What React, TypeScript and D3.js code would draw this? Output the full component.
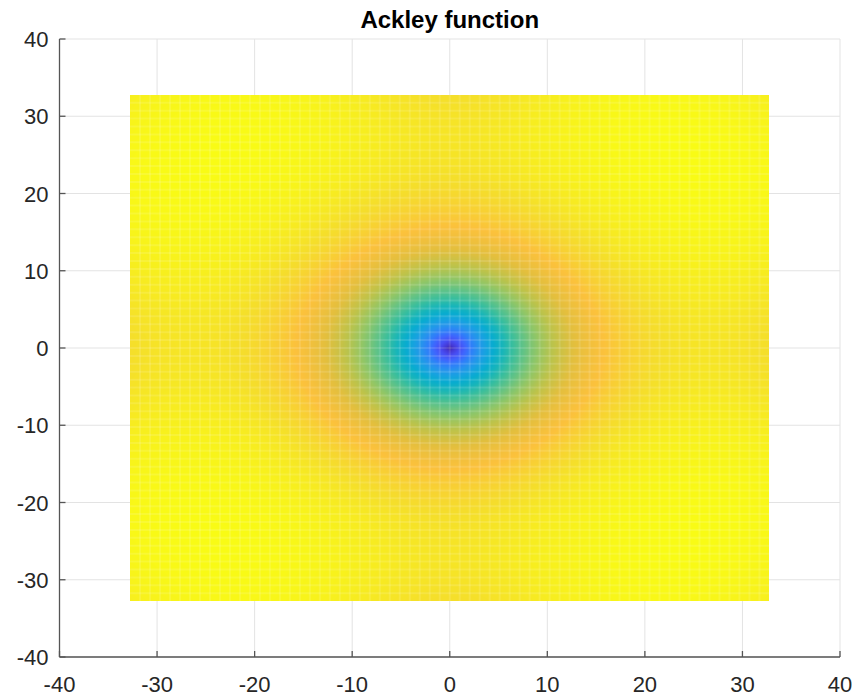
import React, { useEffect, useState } from "react";
import * as d3 from "d3";

// Axis limits and tick values
const xLimits = [-40, 40];
const yLimits = [-40, 40];
const tickValues = [-40, -30, -20, -10, 0, 10, 20, 30, 40];

// Mesh of the surface: 65 x 65 points over the standard Ackley box
const surfaceDomain = [-32.768, 32.768];
const meshPoints = 65;
// Ackley parameters: a, b, c
const ackleyParams = [20, 0.2, 2 * Math.PI];

// Parula colormap anchors (evenly spaced from low to high)
const parula: number[][] = [
  [0.2422, 0.1504, 0.6603], [0.2691, 0.2178, 0.8305], [0.278, 0.3, 0.95], [0.247, 0.396, 0.993],
  [0.184, 0.495, 0.978], [0.15, 0.575, 0.93], [0.09, 0.635, 0.88], [0.03, 0.675, 0.81],
  [0.09, 0.71, 0.73], [0.22, 0.745, 0.62], [0.39, 0.765, 0.52], [0.57, 0.775, 0.4],
  [0.74, 0.765, 0.29], [0.89, 0.75, 0.24], [0.985, 0.755, 0.235], [0.96, 0.87, 0.17],
  [0.9769, 0.9839, 0.0805],
];

const WIDTH = 860;
const HEIGHT = 699;
const margin = { left: 59.5, right: 20, top: 39, bottom: 42 };

function ackley(x: number, y: number): number {
  const [a, b, c] = ackleyParams;
  const s1 = 0.5 * (x * x + y * y);
  const s2 = 0.5 * (Math.cos(c * x) + Math.cos(c * y));
  return -a * Math.exp(-b * Math.sqrt(s1)) - Math.exp(s2) + a + Math.E;
}

const xScale = d3.scaleLinear().domain(xLimits).range([margin.left, WIDTH - margin.right]);
const yScale = d3.scaleLinear().domain(yLimits).range([HEIGHT - margin.bottom, margin.top]);

// mesh coordinates and values
const meshCoords = d3.range(meshPoints).map(
  (i) => surfaceDomain[0] + (i * (surfaceDomain[1] - surfaceDomain[0])) / (meshPoints - 1)
);
const zValues = meshCoords.map((yv) => meshCoords.map((xv) => ackley(xv, yv)));
const zExtent = d3.extent(zValues.flat()) as [number, number];
const meshIndex = d3.scaleLinear().domain(surfaceDomain).range([0, meshPoints - 1]).clamp(true);

const fontFamily = "'Liberation Sans', Arial, Helvetica, sans-serif";

function useSurfaceImage() {
  const [img, setImg] = useState<{ href: string; x: number; y: number; w: number; h: number } | null>(null);
  useEffect(() => {
    const x0 = Math.round(xScale(surfaceDomain[0]));
    const x1 = Math.round(xScale(surfaceDomain[1]));
    const y0 = Math.round(yScale(surfaceDomain[1]));
    const y1 = Math.round(yScale(surfaceDomain[0]));
    const w = x1 - x0;
    const h = y1 - y0;

    const color = d3
      .scaleLinear<string>()
      .domain(parula.map((_, k) => zExtent[0] + (k / (parula.length - 1)) * (zExtent[1] - zExtent[0])))
      .range(parula.map(([r, g, b]) => d3.rgb(r * 255, g * 255, b * 255).toString()))
      .clamp(true);

    const canvas = document.createElement("canvas");
    canvas.width = w;
    canvas.height = h;
    const ctx = canvas.getContext("2d")!;
    const imageData = ctx.createImageData(w, h);
    // interpolated shading between mesh vertices
    for (let j = 0; j < h; j++) {
      const fy = meshIndex(yScale.invert(y0 + j + 0.5));
      const jy = Math.min(Math.floor(fy), meshPoints - 2);
      const ty = fy - jy;
      for (let i = 0; i < w; i++) {
        const fx = meshIndex(xScale.invert(x0 + i + 0.5));
        const ix = Math.min(Math.floor(fx), meshPoints - 2);
        const tx = fx - ix;
        const z =
          zValues[jy][ix] * (1 - tx) * (1 - ty) +
          zValues[jy][ix + 1] * tx * (1 - ty) +
          zValues[jy + 1][ix] * (1 - tx) * ty +
          zValues[jy + 1][ix + 1] * tx * ty;
        const c = d3.rgb(color(z));
        const k = (j * w + i) * 4;
        imageData.data[k] = c.r;
        imageData.data[k + 1] = c.g;
        imageData.data[k + 2] = c.b;
        imageData.data[k + 3] = 255;
      }
    }
    ctx.putImageData(imageData, 0, 0);
    setImg({ href: canvas.toDataURL(), x: x0, y: y0, w, h });
  }, []);
  return img;
}

export default function App() {
  const img = useSurfaceImage();
  const axisColor = "#555555";
  const gridColor = "#e3e3e3";
  const textColor = "#262626";
  const left = xScale(xLimits[0]);
  const right = xScale(xLimits[1]);
  const top = yScale(yLimits[1]);
  const bottom = yScale(yLimits[0]);

  return (
    <svg
      width={WIDTH}
      height={HEIGHT}
      style={{ position: "absolute", left: 0, top: 0, background: "#fff" }}
      fontFamily={fontFamily}
    >
      <rect x={0} y={0} width={WIDTH} height={HEIGHT} fill="#fff" />
      {/* grid */}
      <g stroke={gridColor} strokeWidth={1}>
        {tickValues.map((t) => (
          <line key={`gx${t}`} x1={xScale(t)} x2={xScale(t)} y1={top} y2={bottom} />
        ))}
        {tickValues.map((t) => (
          <line key={`gy${t}`} x1={left} x2={right} y1={yScale(t)} y2={yScale(t)} />
        ))}
      </g>
      {/* surface */}
      {img && (
        <image
          href={img.href}
          x={img.x}
          y={img.y}
          width={img.w}
          height={img.h}
          preserveAspectRatio="none"
        />
      )}
      {/* faint mesh edges */}
      <g stroke="#ffffff" strokeOpacity={0.12} strokeWidth={2}>
        {meshCoords.slice(1, -1).map((v, i) => (
          <line
            key={`mx${i}`}
            x1={xScale(v)}
            x2={xScale(v)}
            y1={yScale(surfaceDomain[1])}
            y2={yScale(surfaceDomain[0])}
          />
        ))}
        {meshCoords.slice(1, -1).map((v, i) => (
          <line
            key={`my${i}`}
            x1={xScale(surfaceDomain[0])}
            x2={xScale(surfaceDomain[1])}
            y1={yScale(v)}
            y2={yScale(v)}
          />
        ))}
      </g>
      {/* axes */}
      <g stroke={axisColor} strokeWidth={1.3} fill="none">
        <line x1={left} x2={left} y1={top} y2={bottom} />
        <line x1={left} x2={right} y1={bottom} y2={bottom} />
        {tickValues.map((t) => (
          <line key={`tx${t}`} x1={xScale(t)} x2={xScale(t)} y1={bottom} y2={bottom - 6} />
        ))}
        {tickValues.map((t) => (
          <line key={`ty${t}`} x1={left} x2={left + 6} y1={yScale(t)} y2={yScale(t)} />
        ))}
      </g>
      {/* tick labels */}
      <g fill={textColor} fontSize={22}>
        {tickValues.map((t) => (
          <text key={`lx${t}`} x={xScale(t)} y={bottom + 35} textAnchor="middle">
            {t}
          </text>
        ))}
        {tickValues.map((t) => (
          <text key={`ly${t}`} x={left - 11} y={yScale(t) + 8} textAnchor="end">
            {t}
          </text>
        ))}
      </g>
      <text x={xScale(0)} y={28} textAnchor="middle" fontSize={24} fontWeight="bold" fill="#000">
        Ackley function
      </text>
    </svg>
  );
}
